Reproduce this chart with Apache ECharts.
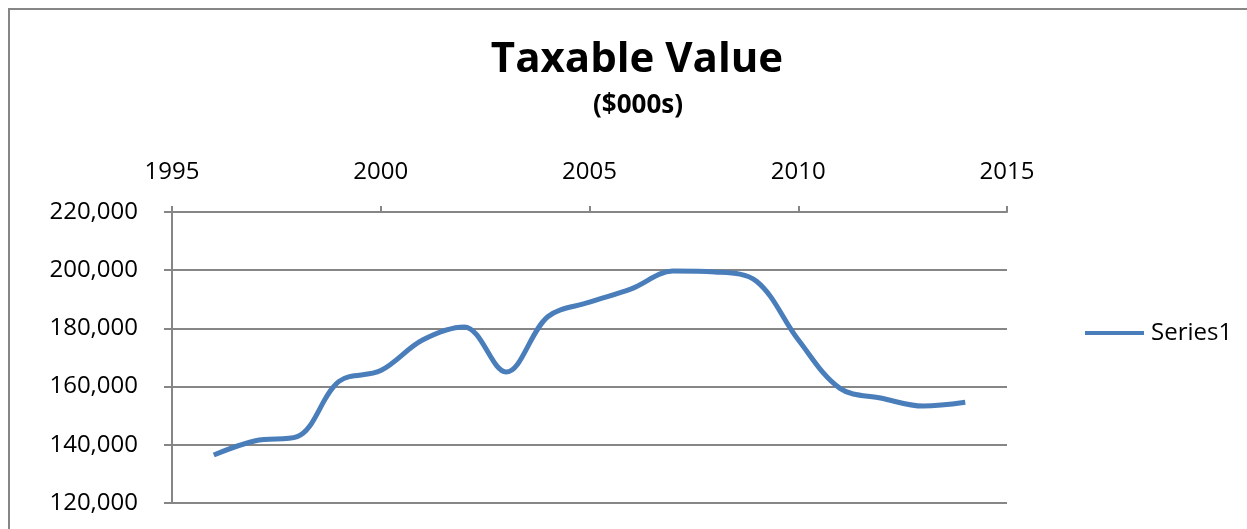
<!DOCTYPE html>
<html>
<head>
<meta charset="utf-8">
<script src="https://cdn.jsdelivr.net/npm/echarts@6/dist/echarts.min.js"></script>
<style>
html,body{margin:0;padding:0;background:#fff;}
#c{width:1247px;height:529px;}
</style>
</head>
<body>
<div id="c"></div>
<script>
const titleText = 'Taxable Value';
const subtitleText = '($000s)';
const seriesName = 'Series1';
const years = [1996,1997,1998,1999,2000,2001,2002,2003,2004,2005,2006,2007,2008,2009,2010,2011,2012,2013,2014];
const values = [136500,141400,142800,161800,165500,176000,180500,165000,184000,189000,193600,199700,199400,196200,176100,159400,156000,153300,154600];
const xTicks = [1995,2015,5];
const yTicks = [120000,220000,20000];

const data = years.map((y,i)=>[y, values[i]]);
const chart = echarts.init(document.getElementById('c'));
const axisColor = '#868686';
const font = 'Open Sans';
chart.setOption({
  animation:false,
  backgroundColor:'#fff',
  graphic:[{type:'rect',shape:{x:9,y:9,width:1300,height:600},style:{fill:'none',stroke:axisColor,lineWidth:2},silent:true}],
  title:[
    {text:titleText,left:632,textAlign:'center',top:34,textStyle:{fontFamily:font,fontWeight:'bold',fontSize:42,color:'#000'}},
    {text:subtitleText,left:633,textAlign:'center',top:88,textStyle:{fontFamily:font,fontWeight:'bold',fontSize:26,color:'#000'}}
  ],
  legend:{left:1080,top:316,data:[{name:seriesName,icon:'rect'}],itemWidth:59,itemHeight:4,itemGap:10,
    textStyle:{fontFamily:font,fontSize:24,color:'#000',padding:[0,0,0,2]}},
  grid:{left:172,right:240,top:212,bottom:26,containLabel:false},
  xAxis:{type:'value',position:'top',min:xTicks[0],max:xTicks[1],interval:xTicks[2],
    axisLine:{show:true,lineStyle:{color:axisColor,width:2}},
    axisTick:{show:true,inside:false,length:6,lineStyle:{color:axisColor,width:2}},
    splitLine:{show:false},
    axisLabel:{margin:28,fontFamily:font,fontSize:24,color:'#000',formatter:v=>String(v)}},
  yAxis:{type:'value',min:yTicks[0],max:yTicks[1],interval:yTicks[2],
    axisLine:{show:true,lineStyle:{color:axisColor,width:2}},
    axisTick:{show:true,inside:false,length:8,lineStyle:{color:axisColor,width:2}},
    splitLine:{show:true,lineStyle:{color:axisColor,width:2}},
    axisLabel:{margin:34,fontFamily:font,fontSize:24,color:'#000',formatter:v=>v.toLocaleString('en-US')}},
  series:[{name:seriesName,type:'line',data:data,smooth:0.35,symbol:'none',
    lineStyle:{color:'#4A7EBB',width:5},itemStyle:{color:'#4A7EBB'}}]
});
</script>
</body>
</html>
